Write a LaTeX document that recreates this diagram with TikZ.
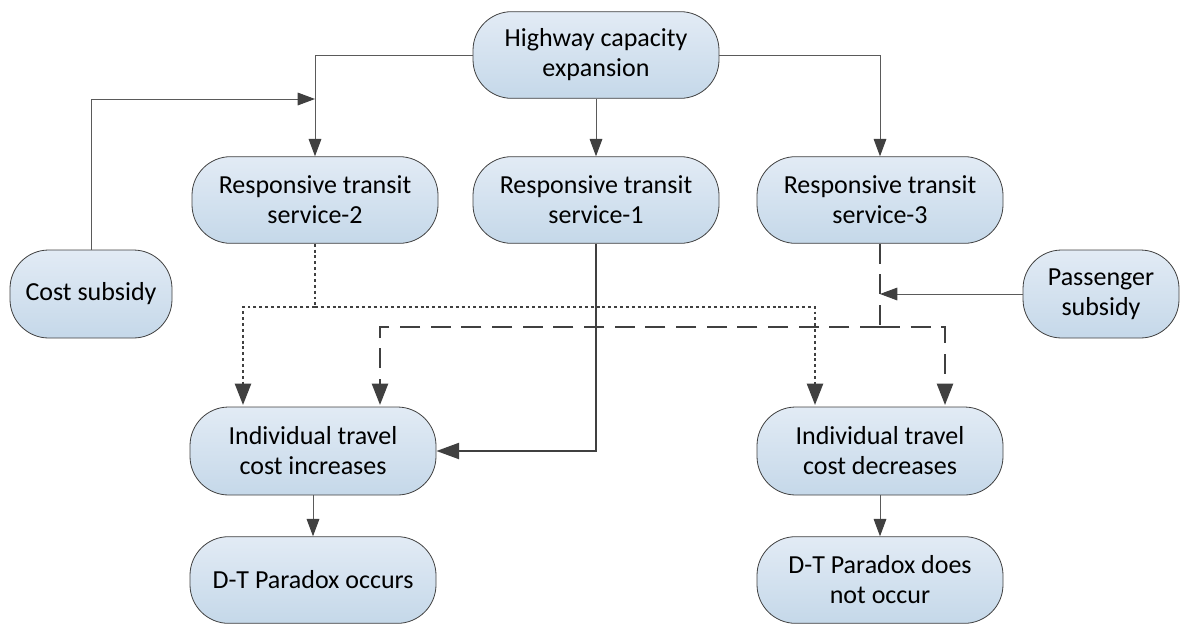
\documentclass[tikz,border=0pt]{standalone}
\usepackage{fontspec}
\setmainfont{Carlito}
\usetikzlibrary{arrows.meta,calc}
\definecolor{boxtop}{RGB}{226,235,245}
\definecolor{boxbot}{RGB}{197,216,233}
\definecolor{edge}{RGB}{64,64,64}
\definecolor{thin}{RGB}{90,90,90}
\begin{document}
\begin{tikzpicture}[x=0.75pt,y=-0.75pt,
  box/.style={draw=edge, line width=0.6pt, rounded corners=29pt,
    top color=boxtop, bottom color=boxbot,
    minimum width=184.5pt, minimum height=65pt, inner sep=0pt,
    align=center, font=\fontsize{19.5}{22.5}\selectfont},
  thinarr/.style={draw=thin, line width=0.75pt, -{Triangle[length=13pt,width=9.5pt,color=edge]}},
  dotarr/.style={draw=edge, line width=1.8pt, dash pattern=on 2.2pt off 2.2pt, -{Triangle[length=16pt,width=12pt]}},
  dasharr/.style={draw=edge, line width=1.8pt, dash pattern=on 15pt off 8pt, -{Triangle[length=16pt,width=12pt]}},
  solidarr/.style={draw=edge, line width=1.6pt, -{Triangle[length=17pt,width=12pt]}}
]
\useasboundingbox (0,0) rectangle (1180,625);

\node[box] (top) at (596,55) {Highway capacity\\expansion};
\node[box] (rts2) at (315,200) {Responsive transit\\service-2};
\node[box] (rts1) at (596,200) {Responsive transit\\service-1};
\node[box] (rts3) at (880,200) {Responsive transit\\service-3};
\node[box, minimum width=121.5pt, minimum height=66pt] (cost) at (91,294) {Cost subsidy};
\node[box, minimum width=117pt, minimum height=66pt] (pass) at (1101,294) {Passenger\\subsidy};
\node[box, minimum height=66pt] (inc) at (313,451) {Individual travel\\cost increases};
\node[box, minimum height=66pt] (dec) at (880,451) {Individual travel\\cost decreases};
\node[box] (occ) at (313,580) {D-T Paradox occurs};
\node[box] (nocc) at (880,580) {D-T Paradox does\\not occur};

\coordinate (c1) at (315,99);
\coordinate (d1) at (315,307);
\coordinate (dl) at (243,405);
\coordinate (dr) at (815,405);
\coordinate (j1) at (880,294);
\coordinate (j2) at (880,327);
\coordinate (el) at (380,405);
\coordinate (er) at (945,405);

% top connectors
\draw[thinarr] (top.west) -| (rts2.north);
\draw[thinarr] (top.east) -| (rts3.north);
\draw[thinarr] (top.south) -- (rts1.north);
\draw[thinarr] (cost.north) |- (c1);
\draw[thinarr] (pass.west) -- (j1);

% dotted from service-2
\draw[draw=edge, line width=1.8pt, dash pattern=on 2.2pt off 2.2pt] (rts2.south) -- (d1);
\draw[dotarr] (d1) -| (dl);
\draw[dotarr] (d1) -| (dr);

% dashed from service-3
\draw[draw=edge, line width=1.8pt, dash pattern=on 15pt off 8pt] (rts3.south) -- (j2);
\draw[dasharr] (j2) -| (el);
\draw[dasharr] (j2) -| (er);

% solid from service-1
\draw[solidarr] (rts1.south) |- (inc.east);

% bottom
\draw[thinarr] (inc.south) -- (occ.north);
\draw[thinarr] (dec.south) -- (nocc.north);
\end{tikzpicture}
\end{document}
